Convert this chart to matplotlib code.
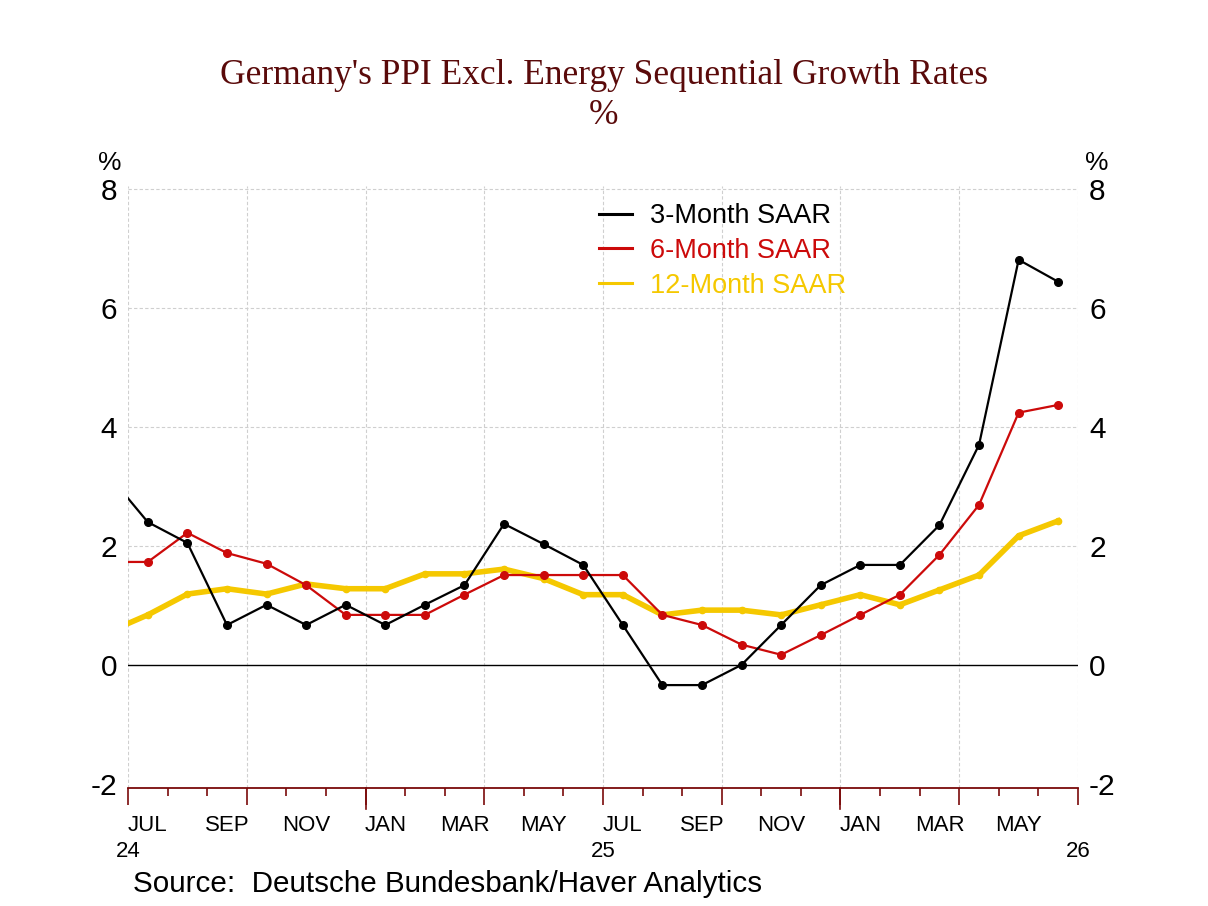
import matplotlib
matplotlib.use("Agg")
import matplotlib.pyplot as plt
import matplotlib.transforms as mtransforms

# ---- data (monthly, Jun 2024 .. Jun 2026) ----
months = ["2024-06", "2024-07", "2024-08", "2024-09", "2024-10", "2024-11", "2024-12",
          "2025-01", "2025-02", "2025-03", "2025-04", "2025-05", "2025-06",
          "2025-07", "2025-08", "2025-09", "2025-10", "2025-11", "2025-12",
          "2026-01", "2026-02", "2026-03", "2026-04", "2026-05", "2026-06"]
saar3 = [3.20, 2.40, 2.05, 0.67, 1.01, 0.67, 1.01, 0.67, 1.01, 1.34, 2.37, 2.03, 1.68,
         0.67, -0.34, -0.34, 0.00, 0.67, 1.34, 1.68, 1.68, 2.35, 3.70, 6.81, 6.44]
saar6 = [1.73, 1.73, 2.22, 1.88, 1.70, 1.34, 0.84, 0.84, 0.84, 1.18, 1.51, 1.51, 1.51,
         1.51, 0.84, 0.67, 0.34, 0.17, 0.50, 0.84, 1.18, 1.85, 2.69, 4.24, 4.37]
saar12 = [0.55, 0.84, 1.19, 1.28, 1.19, 1.36, 1.28, 1.28, 1.53, 1.53, 1.61, 1.45, 1.18,
          1.18, 0.84, 0.92, 0.92, 0.84, 1.01, 1.18, 1.01, 1.26, 1.51, 2.17, 2.42]
month_labels = ["JUL", "SEP", "NOV", "JAN", "MAR", "MAY",
                "JUL", "SEP", "NOV", "JAN", "MAR", "MAY"]
year_labels = ["24", "25", "26"]
yticks = [-2, 0, 2, 4, 6, 8]
series_names = ["3-Month SAAR", "6-Month SAAR", "12-Month SAAR"]

# ---- styling ----
C_BLACK = "#000000"
C_RED = "#cc0a0a"
C_YEL = "#f5c800"
C_TITLE = "#5a0a0a"
C_AXIS = "#7a0a0a"
SANS = ["Liberation Sans", "DejaVu Sans"]
SERIF = ["Liberation Serif", "DejaVu Serif"]

# month index: Jul 2024 start = 0; points at mid-month
x = [i - 0.5 for i in range(len(months))]

fig = plt.figure(figsize=(12.08, 9.06), dpi=100)
ax = fig.add_axes([128/1208, 1-788/906, (1078-128)/1208, (788-186)/906])

ax.set_xlim(0, 24)
ax.set_ylim(-2.07, 8.05)

# grid
for yv in [2, 4, 6, 8]:
    ax.axhline(yv, color="#cfcfcf", lw=0.8, ls=(0, (3, 2)), zorder=0)
for xv in range(0, 25, 3):
    ax.axvline(xv, color="#cfcfcf", lw=0.8, ls=(0, (3, 2)), zorder=0)
ax.axhline(0, color="black", lw=1.0, zorder=1)

l12, = ax.plot(x, saar12, color=C_YEL, lw=4.0, marker="o", ms=4.5, zorder=2)
l6, = ax.plot(x, saar6, color=C_RED, lw=1.6, marker="o", ms=5.5, zorder=3)
l3, = ax.plot(x, saar3, color=C_BLACK, lw=1.6, marker="o", ms=5.5, zorder=4)

# spines
for s in ["top", "left", "right"]:
    ax.spines[s].set_visible(False)
ax.spines["bottom"].set_color(C_AXIS)
ax.spines["bottom"].set_linewidth(1.3)

# y ticks both sides
ax.set_yticks(yticks)
ax.set_yticklabels([str(v) for v in yticks], fontsize=21.5, family=SANS)
ax.tick_params(axis="y", length=0, pad=8, labelright=True, labelleft=True)

# x ticks: quarter majors, month minors, no labels
ax.set_xticks(range(0, 25, 3))
ax.set_xticks(range(0, 25), minor=True)
ax.tick_params(axis="x", which="major", length=12, width=1.2, color=C_AXIS, labelbottom=False)
ax.tick_params(axis="x", which="minor", length=6, width=1.2, color=C_AXIS)
trans = mtransforms.blended_transform_factory(ax.transData, ax.transAxes)
# longer ticks at January
for xv in [6, 18]:
    ax.plot([xv, xv], [0, -0.035], transform=trans, color=C_AXIS, lw=1.2, clip_on=False)

for i, lab in enumerate(month_labels):
    ax.text(2*i + 0.5, -0.045, lab, transform=trans, ha="center", va="top",
            fontsize=16, family=SANS)
for i, lab in enumerate(year_labels):
    ax.text(12*i, -0.088, lab, transform=trans, ha="center", va="top",
            fontsize=16, family=SANS)

# % labels
fig.text(110/1208, 1-163/906, "%", ha="center", va="center", fontsize=19, family=SANS)
fig.text(1097/1208, 1-163/906, "%", ha="center", va="center", fontsize=19, family=SANS)

# title
fig.text(0.5, 1-75/906, "Germany's PPI Excl. Energy Sequential Growth Rates", ha="center",
         va="center", fontsize=25.5, family=SERIF, color=C_TITLE)
fig.text(0.5, 1-116/906, "%", ha="center", va="center", fontsize=25.5, family=SERIF, color=C_TITLE)

# legend
leg = ax.legend([l3, l6, l12], series_names,
                loc="upper left", bbox_to_anchor=((599-128)/950, 1-(203-186)/602),
                frameon=False, handlelength=1.2, handletextpad=0.7, borderpad=0,
                borderaxespad=0, labelspacing=0.33, prop={"family": SANS, "size": 19.5})
for h in leg.legend_handles:
    h.set_marker("")
    h.set_linewidth(2.2)
for t, c in zip(leg.get_texts(), [C_BLACK, C_RED, C_YEL]):
    t.set_color(c)

fig.text(133/1208, 1-884/906, "Source:  Deutsche Bundesbank/Haver Analytics", ha="left",
         va="center", fontsize=21.3, family=SANS)

fig.savefig("out.png", dpi=100)
